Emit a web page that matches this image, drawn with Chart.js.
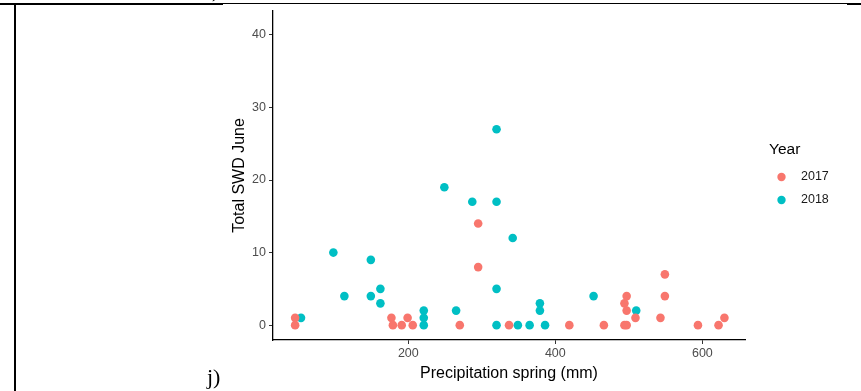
<!DOCTYPE html>
<html>
<head>
<meta charset="utf-8">
<script src="https://cdn.jsdelivr.net/npm/chart.js@4"></script>
<style>
    body { margin: 0; background: #fff; }
    #wrap { position: relative; width: 861px; height: 391px; overflow: hidden; }
    #myChart { position: absolute; left: 0; top: 0; }
    .line { position: absolute; background: #000; }
    .label { position: absolute; font-family: "Liberation Serif", serif; color: #000; }
</style>
</head>
<body>
<div id="wrap">
    <canvas id="myChart" width="861" height="391"></canvas>
    <div class="line" style="left:0; top:3px; width:861px; height:1px;"></div>
    <div class="line" style="left:0; top:3px; width:223px; height:2px;"></div>
    <div class="line" style="left:847px; top:3px; width:14px; height:2px;"></div>
    <div class="line" style="left:14px; top:3px; width:2px; height:388px;"></div>
    <div class="label" style="left:212px; top:-21px; font-size:20px;">)</div>
    <div class="label" style="left:207px; top:364px; font-size:22px;">j)</div>
</div>
<script>
// Precipitation spring (mm) vs Total SWD June
var years = ['2017', '2018'];
var colors = ['#F8766D', '#00BFC4'];

var precip2017 = [46, 46, 177, 179, 191, 199, 206, 270, 295, 295, 337, 419, 466, 494, 497, 494, 497, 497, 509, 549, 549, 543, 594, 622, 630];
var swd2017    = [1, 0, 1, 0, 0, 1, 0, 0, 14, 8, 0, 0, 0, 0, 0, 3, 4, 2, 1, 7, 4, 1, 0, 0, 1];

var precip2018 = [54, 98, 113, 149, 149, 162, 162, 221, 221, 221, 249, 265, 287, 320, 320, 320, 320, 342, 349, 365, 379, 379, 386, 452, 510];
var swd2018    = [1, 10, 4, 9, 4, 5, 3, 2, 1, 0, 19, 2, 17, 27, 17, 5, 0, 12, 0, 0, 3, 2, 0, 4, 2];

var xTicks = [200, 400, 600];
var yTicks = [0, 10, 20, 30, 40];

function toPoints(xs, ys) {
    return xs.map(function(x, i) { return { x: x, y: ys[i] }; });
}

var legendPlugin = {
    id: 'yearLegend',
    afterDraw: function(chart) {
        var ctx = chart.ctx;
        ctx.save();
        ctx.fillStyle = '#000';
        ctx.font = '15.5px "Liberation Sans", Arial, sans-serif';
        ctx.textBaseline = 'middle';
        ctx.fillText('Year', 769, 150);
        ctx.font = '12.5px "Liberation Sans", Arial, sans-serif';
        years.forEach(function(year, i) {
            var y = 177 + i * 23;
            ctx.beginPath();
            ctx.arc(781.5, y, 4.2, 0, Math.PI * 2);
            ctx.fillStyle = colors[i];
            ctx.fill();
            ctx.fillStyle = '#1a1a1a';
            ctx.fillText(year, 801, y);
        });
        ctx.restore();
    }
};

var tickFont = { family: '"Liberation Sans", Arial, sans-serif', size: 12.5 };
var titleFont = { family: '"Liberation Sans", Arial, sans-serif', size: 16 };

var ctx = document.getElementById('myChart');
var scatter = new Chart(ctx, {
    type: 'scatter',
    data: {
        datasets: [{
            label: years[0],
            data: toPoints(precip2017, swd2017),
            backgroundColor: colors[0],
            borderWidth: 0,
            pointRadius: 4.3
        }, {
            label: years[1],
            data: toPoints(precip2018, swd2018),
            backgroundColor: colors[1],
            borderWidth: 0,
            pointRadius: 4.3
        }]
    },
    options: {
        responsive: false,
        animation: false,
        layout: { padding: { left: 226, top: 11, right: 116, bottom: 0 } },
        plugins: {
            legend: { display: false },
            tooltip: { enabled: false }
        },
        scales: {
            x: {
                type: 'linear',
                min: 15.9,
                max: 658,
                afterFit: function(scale) { scale.height = 51; },
                afterBuildTicks: function(scale) {
                    scale.ticks = xTicks.map(function(v) { return { value: v }; });
                },
                grid: { drawOnChartArea: false, drawTicks: true, tickLength: 4, tickColor: '#333', tickWidth: 1 },
                border: { color: '#000', width: 1.3 },
                ticks: { color: '#4d4d4d', font: tickFont, padding: 2, maxRotation: 0 },
                title: { display: true, text: 'Precipitation spring (mm)', color: '#000', font: titleFont, padding: { bottom: 8 } }
            },
            y: {
                min: -2.05,
                max: 43.3,
                afterFit: function(scale) { scale.width = 47; },
                afterBuildTicks: function(scale) {
                    scale.ticks = yTicks.map(function(v) { return { value: v }; });
                },
                grid: { drawOnChartArea: false, drawTicks: true, tickLength: 4, tickColor: '#333', tickWidth: 1 },
                border: { color: '#000', width: 1.3 },
                ticks: { color: '#4d4d4d', font: tickFont, padding: 3 },
                title: { display: true, text: 'Total SWD June', color: '#000', font: titleFont, padding: { top: 4 } }
            }
        }
    },
    plugins: [legendPlugin]
});
</script>
</body>
</html>
